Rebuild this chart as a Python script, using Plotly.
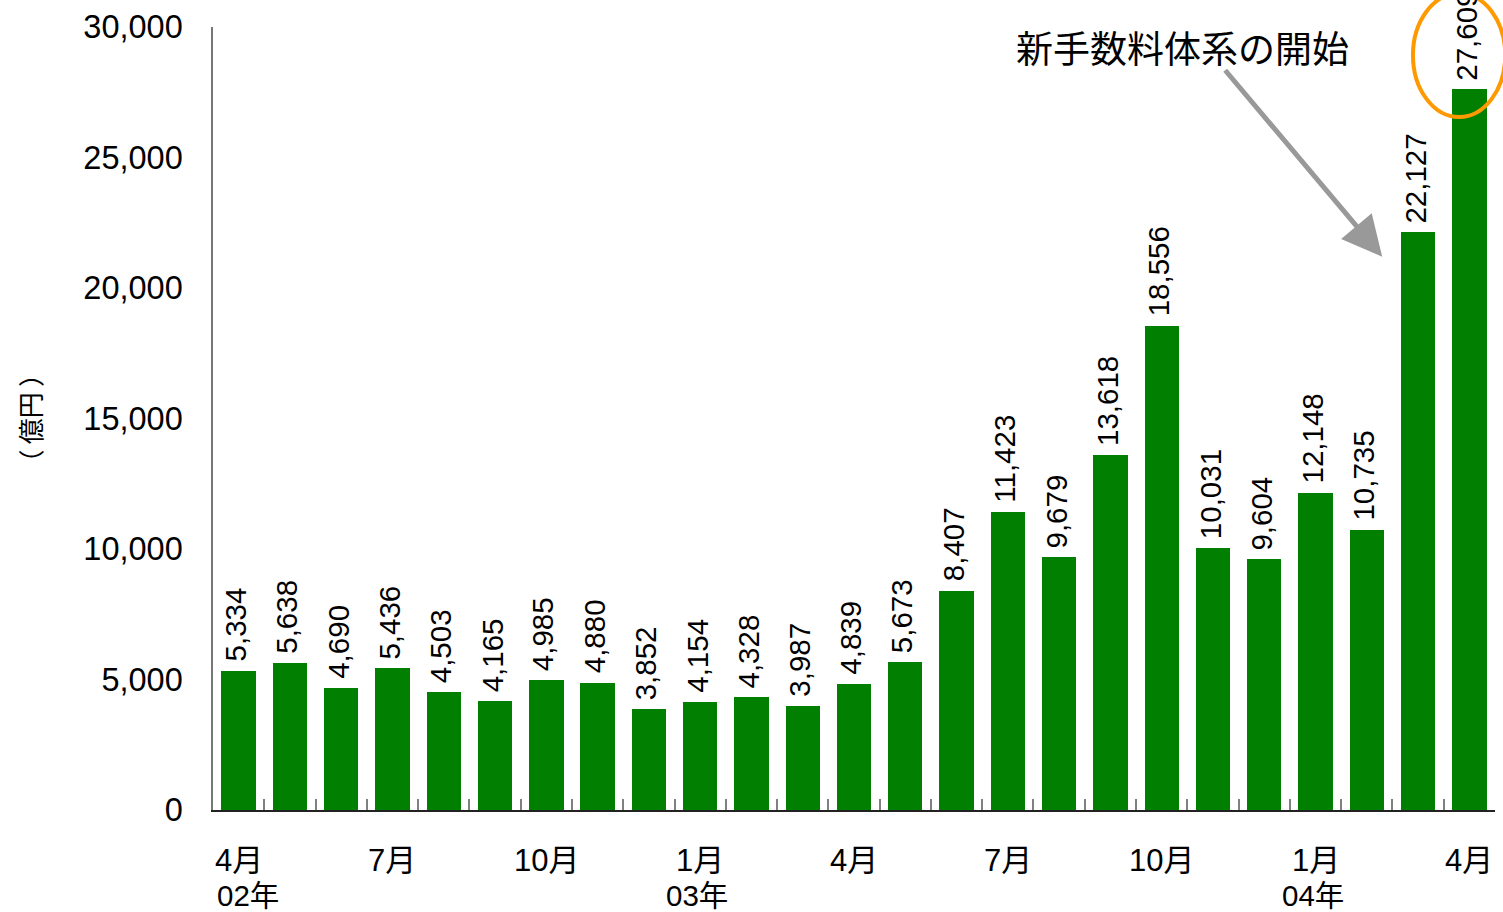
import plotly.graph_objects as go

# Monthly amounts (億円), April 2002 – April 2004
periods = [
    "2002-04", "2002-05", "2002-06", "2002-07", "2002-08", "2002-09",
    "2002-10", "2002-11", "2002-12", "2003-01", "2003-02", "2003-03",
    "2003-04", "2003-05", "2003-06", "2003-07", "2003-08", "2003-09",
    "2003-10", "2003-11", "2003-12", "2004-01", "2004-02", "2004-03",
    "2004-04",
]
values = [
    5334, 5638, 4690, 5436, 4503, 4165, 4985, 4880, 3852, 4154, 4328, 3987,
    4839, 5673, 8407, 11423, 9679, 13618, 18556, 10031, 9604, 12148, 10735,
    22127, 27609,
]

month_tick_idx = [0, 3, 6, 9, 12, 15, 18, 21, 24]
month_tick_text = ["4月", "7月", "10月", "1月", "4月", "7月", "10月", "1月", "4月"]
year_tick_idx = [0, 9, 21]
year_tick_text = ["02年", "03年", "04年"]

y_ticks = [0, 5000, 10000, 15000, 20000, 25000, 30000]

LATIN_JP = "Liberation Sans, Noto Sans CJK JP, sans-serif"
BAR_GREEN = "#007F00"

x_pos = list(range(len(periods)))

fig = go.Figure()
fig.add_trace(go.Bar(
    x=x_pos,
    y=values,
    width=0.67,
    marker=dict(color=BAR_GREEN, line=dict(width=0)),
    hovertext=periods,
    showlegend=False,
))

annotations = []

# value labels, rotated, sitting above each bar
for xi, v in zip(x_pos, values):
    annotations.append(dict(
        x=xi, y=v, xref="x", yref="y",
        text=f"{v:,}", textangle=-90,
        showarrow=False, xanchor="center", yanchor="bottom",
        xshift=-3, yshift=7,
        font=dict(family=LATIN_JP, size=29.5, color="#000000"),
    ))

# month labels under the axis
for xi, t in zip(month_tick_idx, month_tick_text):
    annotations.append(dict(
        x=xi, y=0, xref="x", yref="paper",
        text=t, showarrow=False, xanchor="center", yanchor="middle",
        yshift=-50,
        font=dict(family=LATIN_JP, size=31, color="#000000"),
    ))

# year labels, second row
for xi, t in zip(year_tick_idx, year_tick_text):
    annotations.append(dict(
        x=xi, y=0, xref="x", yref="paper",
        text=t, showarrow=False, xanchor="center", yanchor="middle",
        xshift=9 if xi == 0 else -3, yshift=-85,
        font=dict(family=LATIN_JP, size=29.5, color="#000000"),
    ))

# y-axis unit
annotations.append(dict(
    x=0, y=0.5, xref="paper", yref="paper",
    text="（\u2009億円\u2009）", textangle=-90, showarrow=False,
    xanchor="center", yanchor="middle", xshift=-184,
    font=dict(family="Noto Sans CJK JP", size=26, color="#000000"),
))

# callout text and arrow
annotations.append(dict(
    x=18.4, y=1, xref="x", yref="paper",
    text="新手数料体系の開始", showarrow=False,
    xanchor="center", yanchor="middle", yshift=-20,
    font=dict(family="Noto Sans CJK JP", size=37, color="#000000"),
))
annotations.append(dict(
    x=22.3, y=21200, xref="x", yref="y",
    text=" ", showarrow=True,
    ax=-160, ay=-190, axref="pixel", ayref="pixel",
    arrowhead=2, arrowsize=1.6, arrowwidth=5, arrowcolor="#999999",
    standoff=0, startstandoff=0,
))

fig.update_layout(
    width=1503, height=912,
    margin=dict(l=213, r=8, t=27, b=102, autoexpand=False),
    paper_bgcolor="#FFFFFF", plot_bgcolor="#FFFFFF",
    bargap=0,
    annotations=annotations,
    # highlight ring around the latest month (paper coords so it is not clipped)
    shapes=[dict(
        type="circle", xref="paper", yref="paper",
        x0=0.936, x1=1.008, y0=0.885, y1=1.043,
        line=dict(color="#FF9900", width=4),
        fillcolor="rgba(0,0,0,0)", layer="above",
    )],
    xaxis=dict(
        range=[-0.5, 24.5],
        showgrid=False, zeroline=False,
        showline=True, linecolor="#222222", linewidth=1.5,
        tickmode="array",
        tickvals=[i - 0.5 for i in range(len(periods) + 1)],
        ticktext=[""] * (len(periods) + 1),
        ticks="inside", ticklen=11, tickcolor="#808080", tickwidth=1.5,
        fixedrange=True,
    ),
    yaxis=dict(
        range=[0, 30000],
        showgrid=False, zeroline=False,
        showline=True, linecolor="#777777", linewidth=1.5,
        tickmode="array", tickvals=y_ticks,
        ticktext=[f"{t:,}" for t in y_ticks],
        ticks="", ticklabelstandoff=22,
        tickfont=dict(family=LATIN_JP, size=32.5, color="#000000"),
        fixedrange=True,
    ),
)

fig.write_html("out.html")
